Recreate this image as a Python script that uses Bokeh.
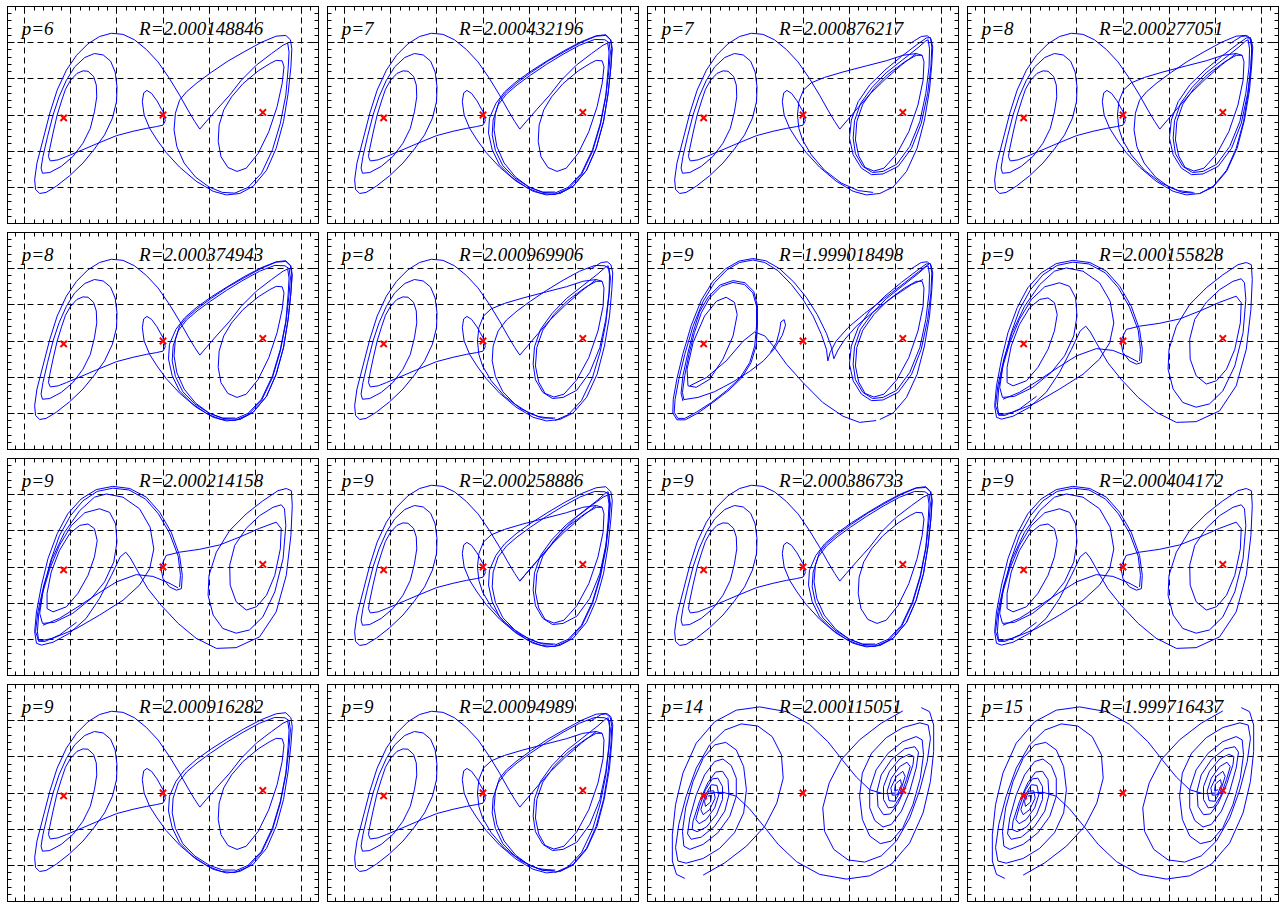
from bokeh.plotting import figure
from bokeh.layouts import gridplot
from bokeh.models import Range1d, SingleIntervalTicker, LinearAxis, Label
from bokeh.embed import file_html
from bokeh.resources import INLINE

# ---------------- labels ----------------
P_LABELS = ["p=6", "p=7", "p=7", "p=8", "p=8", "p=8", "p=9", "p=9",
            "p=9", "p=9", "p=9", "p=9", "p=9", "p=9", "p=14", "p=15"]
R_LABELS = ["R=2.000148846", "R=2.000432196", "R=2.000876217", "R=2.000277051",
            "R=2.000374943", "R=2.000969906", "R=1.999018498", "R=2.000155828",
            "R=2.000214158", "R=2.000258886", "R=2.000386733", "R=2.000404172",
            "R=2.000916282", "R=2.00094989", "R=2.000115051", "R=1.999716437"]

# equilibria (red crosses)
EQ_X = [-2.16, 0.0, 2.17]
EQ_Y = [-0.08, 0.0, 0.07]

# ---------------- orbit pieces (x, y) ----------------
A_LEFT = [(0.80,-0.39),(0.69,-0.18),(0.54,0.14),(0.36,0.55),(0.14,1.01),(-0.11,1.47),(-0.36,1.81),(-0.62,2.08),(-0.87,2.23),(-1.12,2.26),
          (-1.38,2.17),(-1.63,1.97),(-1.88,1.65),(-2.10,1.24),(-2.30,0.69),(-2.46,0.05),(-2.61,-0.69),(-2.74,-1.33),(-2.79,-1.79),(-2.77,-2.06),
          (-2.68,-2.17),(-2.54,-2.14),(-2.32,-1.97),(-2.03,-1.68),(-1.74,-1.33),(-1.49,-0.94),(-1.27,-0.55),(-1.10,-0.09),(-1.01,0.37),(-1.00,0.78),
          (-1.04,1.19),(-1.14,1.49),(-1.30,1.66),(-1.49,1.70),(-1.70,1.59),(-1.92,1.33),(-2.10,0.96),(-2.26,0.50),(-2.39,0.00),(-2.51,-0.60),
          (-2.61,-1.15),(-2.65,-1.47),(-2.62,-1.61),(-2.46,-1.59),(-2.21,-1.42),(-1.96,-1.15),(-1.74,-0.78),(-1.58,-0.37),(-1.49,0.09),(-1.44,0.50),
          (-1.45,0.83),(-1.51,1.07),(-1.63,1.21),(-1.74,1.22),(-1.87,1.15),(-2.01,0.96),(-2.12,0.71),(-2.20,0.41),(-2.30,0.00),(-2.39,-0.50),
          (-2.46,-0.92),(-2.49,-1.15),(-2.45,-1.27),(-2.28,-1.24),(-2.10,-1.15),(-1.78,-0.98),(-1.45,-0.80),(-1.01,-0.57),(-0.65,-0.45),(-0.36,-0.37),
          (-0.14,-0.32),(0.00,-0.28),(0.05,-0.16),(0.00,0.09),(-0.13,0.39),(-0.25,0.60),(-0.35,0.68),(-0.42,0.61),(-0.45,0.37),(-0.41,0.00),
          (-0.29,-0.37),(-0.13,-0.69),(0.07,-1.04),(0.36,-1.44),(0.72,-1.83),(1.09,-2.11),(1.38,-2.21),(1.67,-2.17)]

OUT_A = [(1.67,-2.17),(1.96,-1.97),(2.25,-1.53),(2.46,-0.92),(2.62,-0.18),(2.72,0.60),(2.78,1.33),(2.81,1.83),(2.78,2.08),(2.67,2.22),
         (2.46,2.19),(2.14,2.03),(1.78,1.79),(1.41,1.51),(1.05,1.22),(0.72,0.92),(0.47,0.64),(0.28,0.32),(0.14,-0.09),(0.12,-0.50),
         (0.20,-0.96),(0.36,-1.38),(0.64,-1.74),(0.98,-2.03),(1.27,-2.17),(1.56,-2.20)]
OUT_B = [(1.67,-2.17),(1.96,-1.97),(2.25,-1.53),(2.46,-0.92),(2.62,-0.18),(2.72,0.60),(2.78,1.33),(2.80,1.83),(2.77,2.08),(2.67,2.20),
         (2.46,2.18),(2.14,2.01),(1.78,1.76),(1.41,1.49),(1.05,1.18),(0.74,0.89),(0.51,0.64),(0.36,0.41),(0.27,0.05),(0.24,-0.41),
         (0.30,-0.87),(0.46,-1.33),(0.71,-1.72),(1.00,-1.99),(1.29,-2.14),(1.56,-2.16)]
OUT_C = [(1.56,-2.20),(1.85,-2.04),(2.14,-1.65),(2.38,-1.01),(2.55,-0.28),(2.67,0.50),(2.74,1.28),(2.77,1.74),(2.74,2.00),(2.65,2.08),
         (2.43,2.09),(2.10,1.93),(1.74,1.68),(1.38,1.40),(1.03,1.10),(0.74,0.83),(0.51,0.58),(0.33,0.28),(0.22,-0.14),(0.20,-0.55),
         (0.27,-0.98),(0.43,-1.40),(0.69,-1.74),(1.01,-2.00),(1.30,-2.13),(1.57,-2.13)]
UPV = [(1.56,-2.16),(1.85,-2.00),(2.14,-1.61),(2.38,-0.96),(2.55,-0.23),(2.67,0.55),(2.72,1.28),(2.74,1.74),(2.71,1.99),(2.61,1.93),
       (2.36,1.70),(2.03,1.38),(1.70,0.96),(1.45,0.55),(1.16,0.14),(0.94,-0.18),(0.80,-0.39)]
R_INNER = [(2.46,1.51),(2.59,1.50),(2.63,1.33),(2.59,0.87),(2.48,0.23),(2.30,-0.46),(2.07,-1.06),(1.81,-1.47),(1.61,-1.56),(1.41,-1.45),
           (1.26,-1.15),(1.20,-0.73),(1.22,-0.28),(1.32,0.14),(1.49,0.50),(1.74,0.87),(2.07,1.22),(2.32,1.42),(2.46,1.51)]
T1 = [(2.77,2.14),(2.80,1.88),(2.78,1.33),(2.71,0.60),(2.57,-0.23),(2.36,-0.92),(2.07,-1.42),(1.74,-1.63),(1.49,-1.65),(1.27,-1.47),
      (1.09,-1.10),(1.01,-0.64),(1.05,-0.14),(1.20,0.37),(1.45,0.83),(1.78,1.24),(2.14,1.62),(2.46,1.93),(2.68,2.13),(2.77,2.14)]
T2 = [(2.72,2.08),(2.75,1.83),(2.74,1.33),(2.67,0.60),(2.54,-0.18),(2.32,-0.87),(2.04,-1.36),(1.74,-1.56),(1.51,-1.59),(1.30,-1.42),
      (1.14,-1.07),(1.09,-0.64),(1.12,-0.16),(1.25,0.32),(1.50,0.76),(1.81,1.17),(2.17,1.53),(2.50,1.86),(2.67,2.05),(2.72,2.08)]
T3 = [(2.59,1.65),(2.63,1.47),(2.61,0.96),(2.50,0.28),(2.30,-0.46),(2.04,-1.07),(1.76,-1.47),(1.54,-1.55),(1.35,-1.45),(1.21,-1.13),
      (1.14,-0.69),(1.17,-0.18),(1.30,0.30),(1.54,0.73),(1.85,1.13),(2.21,1.47),(2.46,1.65),(2.59,1.65)]
UPPER_DIAG = [(1.52,-2.14),(1.20,-2.09),(0.83,-1.88),(0.47,-1.53),(0.18,-1.10),(-0.01,-0.69),(-0.09,-0.37),(-0.12,0.00),(-0.09,0.37),
              (0.01,0.69),(0.18,0.89),(0.47,1.04),(0.87,1.19),(1.38,1.36),(1.81,1.50),(2.17,1.65),(2.46,1.70),(2.59,1.65)]
V_ARM2 = [(0.80,-0.39),(0.98,-0.12),(1.20,0.21),(1.45,0.57),(1.78,0.98),(2.14,1.38),(2.46,1.70)]
OUT_UP = [(1.67,-2.17),(1.96,-1.99),(2.25,-1.56),(2.48,-0.92),(2.64,-0.14),(2.75,0.69),(2.80,1.42),(2.82,1.88),(2.78,2.11),(2.70,2.19),
          (2.57,2.17),(2.43,2.06),(2.32,1.97)]

# panel with R=1.999018498
P7_A = [(0.54,-0.55),(0.51,-0.23),(0.40,0.18),(0.22,0.69),(0.00,1.15),(-0.25,1.56),(-0.54,1.94),(-0.83,2.17),(-1.09,2.24),(-1.38,2.17),
        (-1.65,1.97),(-1.92,1.62),(-2.17,1.10),(-2.39,0.41),(-2.57,-0.37),(-2.70,-1.06),(-2.78,-1.61),(-2.80,-1.97),(-2.72,-2.14),(-2.57,-2.14),
        (-2.32,-1.97),(-1.99,-1.70),(-1.67,-1.38),(-1.38,-1.04),(-1.16,-0.60),(-1.05,-0.14),(-1.01,0.41),(-1.01,0.96),(-1.09,1.33),(-1.27,1.56),
        (-1.52,1.62),(-1.78,1.51),(-2.03,1.19),(-2.21,0.78),(-2.36,0.23),(-2.48,-0.37),(-2.57,-0.96),(-2.62,-1.42),(-2.59,-1.62)]
P7_B = [(0.67,-0.49),(0.62,-0.18),(0.51,0.21),(0.31,0.73),(0.07,1.21),(-0.20,1.63),(-0.51,2.00),(-0.81,2.22),(-1.09,2.28),(-1.39,2.21),
        (-1.68,2.00),(-1.96,1.65),(-2.21,1.13),(-2.43,0.43),(-2.61,-0.35),(-2.74,-1.04),(-2.82,-1.61),(-2.83,-1.99),(-2.74,-2.18),(-2.56,-2.18),
        (-2.28,-1.99),(-1.96,-1.70),(-1.63,-1.38),(-1.34,-1.03),(-1.13,-0.60),(-1.02,-0.14),(-0.99,0.41),(-0.99,0.98),(-1.07,1.37),(-1.26,1.61),
        (-1.52,1.67),(-1.80,1.55),(-2.06,1.22),(-2.25,0.80),(-2.39,0.23),(-2.51,-0.37),(-2.61,-0.96),(-2.65,-1.44),(-2.61,-1.66)]
P7_C = [(-2.14,0.69),(-1.88,1.10),(-1.67,1.21),(-1.49,1.07),(-1.43,0.73),(-1.52,0.14),(-1.74,-0.50),(-2.03,-1.06),(-2.32,-1.28),(-2.50,-1.24),
        (-2.52,-0.78),(-2.39,-0.05),(-2.14,0.69)]
P7_D = [(-2.46,-1.24),(-2.10,-1.01),(-1.67,-0.55),(-1.30,0.00),(-1.05,0.25),(-0.83,0.14),(-0.62,-0.18),(-0.36,-0.64),(0.00,-1.15),(0.43,-1.70),
        (0.87,-2.08),(1.23,-2.25),(1.59,-2.20)]
P7_E = [(-2.59,-1.62),(-2.28,-1.56),(-1.92,-1.40),(-1.52,-1.13),(-1.16,-0.84),(-0.86,-0.55),(-0.62,-0.21),(-0.45,0.16),(-0.38,0.44),(-0.41,0.59),
        (-0.48,0.53),(-0.51,0.28),(-0.58,-0.05),(-0.71,-0.32)]
V7A = [(0.54,-0.55),(0.59,-0.32),(0.72,0.00),(0.98,0.37),(1.34,0.76),(1.78,1.19),(2.21,1.61),(2.57,1.97),(2.74,2.13)]
V7B = [(0.67,-0.49),(0.76,-0.25),(0.91,0.05),(1.16,0.41),(1.52,0.80),(1.96,1.22),(2.36,1.56),(2.61,1.70)]

# left-dominant orbits
LD_BIG = [(-0.05,0.00),(0.00,-0.32),(0.14,-0.55),(0.29,-0.64),(0.40,-0.60),(0.42,-0.23),(0.36,0.32),(0.18,0.96),(-0.07,1.51),(-0.36,1.93),
          (-0.72,2.17),(-1.09,2.23),(-1.45,2.14),(-1.78,1.88),(-2.07,1.47),(-2.30,0.92),(-2.50,0.23),(-2.64,-0.50),(-2.75,-1.24),(-2.79,-1.79),
          (-2.75,-2.11),(-2.64,-2.16),(-2.39,-2.08),(-2.03,-1.83),(-1.67,-1.42),(-1.38,-0.87),(-1.12,-0.23),(-0.93,0.28),(-0.81,0.41),(-0.71,0.25),
          (-0.54,-0.14),(-0.33,-0.60),(-0.04,-1.06),(0.33,-1.56),(0.72,-1.97),(1.16,-2.25),(1.59,-2.23)]
LD_BIG2 = [(0.36,-0.55),(0.38,-0.23),(0.33,0.30),(0.14,0.94),(-0.10,1.47),(-0.38,1.88),(-0.74,2.13),(-1.09,2.18),(-1.43,2.09),(-1.74,1.83),
           (-2.01,1.42),(-2.25,0.87),(-2.44,0.18),(-2.59,-0.55),(-2.70,-1.28),(-2.73,-1.79),(-2.70,-2.05),(-2.57,-2.06),(-2.25,-1.88),(-1.88,-1.53)]
LD_CROSS = [(-2.61,-1.61),(-2.25,-1.42),(-1.85,-1.10),(-1.41,-0.73),(-1.01,-0.41),(-0.58,-0.21),(-0.22,-0.26),(0.11,-0.43),(0.33,-0.58)]
N2 = [(-1.23,2.02),(-0.87,1.93),(-0.51,1.61),(-0.28,1.10),(-0.20,0.50),(-0.29,-0.05),(-0.51,-0.50),(-0.87,-0.92),(-1.38,-1.33),(-1.88,-1.70),
      (-2.39,-1.97),(-2.70,-2.05),(-2.77,-1.79),(-2.72,-1.24),(-2.59,-0.50),(-2.41,0.23),(-2.14,0.96),(-1.81,1.56),(-1.49,1.93),(-1.23,2.02)]
N3 = [(-1.38,1.61),(-1.16,1.51),(-1.03,1.19),(-1.00,0.69),(-1.07,0.14),(-1.27,-0.41),(-1.56,-0.87),(-1.96,-1.28),(-2.36,-1.53),(-2.62,-1.56),
      (-2.68,-1.28),(-2.61,-0.69),(-2.46,-0.05),(-2.25,0.60),(-1.99,1.15),(-1.70,1.50),(-1.38,1.61)]
N4 = [(-1.63,1.19),(-1.49,1.06),(-1.43,0.73),(-1.49,0.28),(-1.63,-0.23),(-1.85,-0.73),(-2.10,-1.10),(-2.39,-1.24),(-2.52,-1.15),(-2.52,-0.73),
      (-2.43,-0.14),(-2.25,0.46),(-2.03,0.92),(-1.81,1.15),(-1.63,1.19)]
LD_MID = [(-0.05,0.00),(0.07,0.32),(0.36,0.41),(0.80,0.49),(1.23,0.61),(1.67,0.83),(2.10,1.07),(2.46,1.24)]
RO = [(1.59,-2.23),(2.10,-1.93),(2.46,-1.24),(2.68,-0.23),(2.78,0.87),(2.81,1.70),(2.79,2.11),(2.68,2.17),(2.50,2.11),(2.17,1.83),
      (1.81,1.47),(1.45,1.01),(1.16,0.41),(1.00,-0.23),(0.98,-0.78),(1.09,-1.33),(1.30,-1.70),(1.59,-1.83),(1.88,-1.74),(2.17,-1.38),
      (2.43,-0.69),(2.61,0.23),(2.67,1.15),(2.64,1.61),(2.57,1.72),(2.39,1.65),(2.10,1.42),(1.81,1.07),(1.56,0.60),(1.45,0.05),
      (1.46,-0.50),(1.59,-0.96),(1.81,-1.19),(2.03,-1.10),(2.25,-0.78),(2.43,-0.23),(2.55,0.50),(2.57,1.06),(2.46,1.24)]

# symmetric spiral orbits (p=14, p=15)
UPPER_S = [(2.03,0.00),(1.74,-0.02),(1.45,0.09),(1.16,0.44),(0.87,0.89),(0.54,1.42),(0.14,1.90),(-0.36,2.25),(-0.94,2.38),(-1.45,2.29),
           (-1.92,1.97),(-2.32,1.38),(-2.61,0.55),(-2.77,-0.32),(-2.84,-1.15),(-2.84,-1.88),(-2.75,-2.25),(-2.57,-2.36)]
LOWER_S = [(-2.03,0.00),(-1.74,0.02),(-1.45,-0.09),(-1.16,-0.44),(-0.87,-0.89),(-0.54,-1.42),(-0.14,-1.90),(0.36,-2.25),(0.94,-2.38),(1.45,-2.29),
           (1.92,-1.97),(2.32,-1.38),(2.61,-0.55),(2.77,0.32),(2.84,1.15),(2.84,1.88),(2.75,2.25),(2.57,2.36)]
LEFT_SPIRAL = [(-2.17,-2.27),(-1.70,-1.93),(-1.23,-1.47),(-0.83,-0.92),(-0.57,-0.28),(-0.43,0.41),(-0.47,1.06),(-0.67,1.56),(-0.98,1.85),(-1.34,1.91),
               (-1.70,1.74),(-2.03,1.33),(-2.32,0.69),(-2.54,-0.09),(-2.70,-0.87),(-2.77,-1.51),(-2.72,-1.88),
               (-2.54,-1.94),(-2.17,-1.81),(-1.81,-1.53),(-1.49,-1.10),(-1.29,-0.55),(-1.23,0.09),(-1.29,0.73),(-1.45,1.19),(-1.68,1.40),(-1.92,1.33),
               (-2.17,0.96),(-2.39,0.32),(-2.55,-0.41),(-2.62,-1.06),(-2.59,-1.47),
               (-2.46,-1.56),(-2.17,-1.42),(-1.85,-1.10),(-1.59,-0.64),(-1.45,-0.09),(-1.45,0.41),(-1.56,0.76),(-1.74,0.94),(-1.92,0.87),(-2.14,0.50),
               (-2.32,-0.05),(-2.46,-0.69),(-2.51,-1.13),
               (-2.43,-1.28),(-2.21,-1.22),(-1.92,-0.92),(-1.70,-0.50),(-1.61,-0.05),(-1.63,0.37),(-1.75,0.60),(-1.90,0.58),(-2.07,0.28),(-2.25,-0.23),
               (-2.39,-0.78),(-2.41,-1.01),
               (-2.30,-1.07),(-2.10,-0.94),(-1.88,-0.60),(-1.75,-0.18),(-1.75,0.18),(-1.85,0.41),(-1.97,0.39),(-2.12,0.09),(-2.25,-0.37),(-2.33,-0.73),
               (-2.26,-0.85),(-2.10,-0.73),(-1.92,-0.41),(-1.83,-0.05),(-1.87,0.21),(-1.99,0.23),(-2.12,-0.05),(-2.22,-0.46),
               (-2.17,-0.60),(-2.03,-0.46),(-1.91,-0.14),(-1.94,0.06),(-2.05,0.05),(-2.14,-0.23),(-2.12,-0.37),(-2.01,-0.25),(-1.99,-0.06),(-2.07,-0.09)]
RIGHT_SPIRAL = [(2.17,2.27),(1.70,1.93),(1.23,1.47),(0.83,0.92),(0.57,0.28),(0.43,-0.41),(0.47,-1.06),(0.67,-1.56),(0.98,-1.85),(1.34,-1.91),
                (1.70,-1.74),(2.03,-1.33),(2.32,-0.69),(2.54,0.09),(2.70,0.87),(2.77,1.51),(2.72,1.88),
                (2.54,1.94),(2.17,1.81),(1.81,1.53),(1.49,1.10),(1.29,0.55),(1.23,-0.09),(1.29,-0.73),(1.45,-1.19),(1.68,-1.40),(1.92,-1.33),
                (2.17,-0.96),(2.39,-0.32),(2.55,0.41),(2.62,1.06),(2.59,1.47),
                (2.46,1.56),(2.17,1.42),(1.85,1.10),(1.59,0.64),(1.45,0.09),(1.45,-0.41),(1.56,-0.76),(1.74,-0.94),(1.92,-0.87),(2.14,-0.50),
                (2.32,0.05),(2.46,0.69),(2.51,1.13),
                (2.43,1.28),(2.21,1.22),(1.92,0.92),(1.70,0.50),(1.61,0.05),(1.63,-0.37),(1.75,-0.60),(1.90,-0.58),(2.07,-0.28),(2.25,0.23),
                (2.39,0.78),(2.41,1.01),
                (2.30,1.07),(2.10,0.94),(1.88,0.60),(1.75,0.18),(1.75,-0.18),(1.85,-0.41),(1.97,-0.39),(2.12,-0.09),(2.25,0.37),(2.33,0.73),
                (2.26,0.85),(2.10,0.73),(1.92,0.41),(1.83,0.05),(1.87,-0.21),(1.99,-0.23),(2.12,0.05),(2.22,0.46),
                (2.17,0.60),(2.03,0.46),(1.91,0.14),(1.94,-0.06),(2.05,-0.05),(2.14,0.23),(2.12,0.37),(2.01,0.25),(1.99,0.06),(2.07,0.09)]

PANEL_PIECES = [
    [A_LEFT, OUT_B, UPV, R_INNER],
    [A_LEFT, OUT_A, OUT_C, OUT_B, UPV, R_INNER],
    [A_LEFT, OUT_UP, T1, T2, T3, UPPER_DIAG, V_ARM2],
    [A_LEFT, OUT_UP, OUT_B, T1, T2, T3, UPPER_DIAG, V_ARM2],
    [A_LEFT, OUT_A, OUT_C, OUT_B, UPV, R_INNER],
    [A_LEFT, OUT_UP, OUT_C, T2, T3, UPPER_DIAG, V_ARM2],
    [P7_A, P7_B, P7_C, P7_D, P7_E, OUT_UP, T1, T2, T3, V7A, V7B],
    [LD_BIG, LD_BIG2, LD_CROSS, N2, N3, N4, LD_MID, RO],
    [LD_BIG, LD_BIG2, LD_CROSS, N2, N3, N4, LD_MID, RO],
    [A_LEFT, OUT_A, OUT_C, UPPER_DIAG, T2, T3, V_ARM2, UPV],
    [A_LEFT, OUT_A, OUT_C, OUT_B, UPV, R_INNER],
    [LD_BIG, LD_BIG2, LD_CROSS, N2, N3, N4, LD_MID, RO],
    [A_LEFT, OUT_A, OUT_C, UPV, R_INNER],
    [A_LEFT, OUT_C, OUT_B, UPPER_DIAG, T2, T3, V_ARM2, OUT_UP],
    [UPPER_S, LEFT_SPIRAL, LOWER_S, RIGHT_SPIRAL],
    [UPPER_S, LEFT_SPIRAL, LOWER_S, RIGHT_SPIRAL],
]

BLUE = "#0000ff"
FONT = "Liberation Serif"


def style_axis(ax):
    ax.ticker = SingleIntervalTicker(interval=1, num_minor_ticks=5)
    ax.major_label_text_font_size = "0px"
    ax.major_label_standoff = 0
    ax.major_tick_in = 7
    ax.major_tick_out = 0
    ax.minor_tick_in = 4
    ax.minor_tick_out = 0
    ax.axis_line_color = "black"
    ax.major_tick_line_color = "black"
    ax.minor_tick_line_color = "black"


def make_panel(i):
    p = figure(width=320, height=226, x_range=Range1d(-3.38, 3.38), y_range=Range1d(-3.0, 3.0),
               output_backend="svg", toolbar_location=None,
               min_border_left=7, min_border_right=2, min_border_top=6, min_border_bottom=3)
    p.add_layout(LinearAxis(), "above")
    p.add_layout(LinearAxis(), "right")
    for ax in p.axis:
        style_axis(ax)
    p.outline_line_color = "black"
    p.outline_line_width = 1
    p.grid.grid_line_color = "black"
    p.grid.grid_line_dash = "6 4"
    p.grid.grid_line_width = 1
    p.background_fill_color = "white"
    p.border_fill_color = "white"

    xs = [[pt[0] for pt in piece] for piece in PANEL_PIECES[i]]
    ys = [[pt[1] for pt in piece] for piece in PANEL_PIECES[i]]
    p.multi_line(xs=xs, ys=ys, line_color=BLUE, line_width=1)
    p.scatter(EQ_X, EQ_Y, marker="x", size=9, line_width=2, line_color="#ff0000")

    p.add_layout(Label(x=-3.07, y=2.40, text=P_LABELS[i], text_font=FONT, text_font_style="italic",
                       text_font_size="19px", text_baseline="alphabetic", text_color="black"))
    p.add_layout(Label(x=-0.52, y=2.40, text=R_LABELS[i], text_font=FONT, text_font_style="italic",
                       text_font_size="19px", text_baseline="alphabetic", text_color="black"))
    return p


figs = [make_panel(i) for i in range(16)]
grid = gridplot(figs, ncols=4, toolbar_location=None)

open("out.html", "w").write(file_html(grid, INLINE))
